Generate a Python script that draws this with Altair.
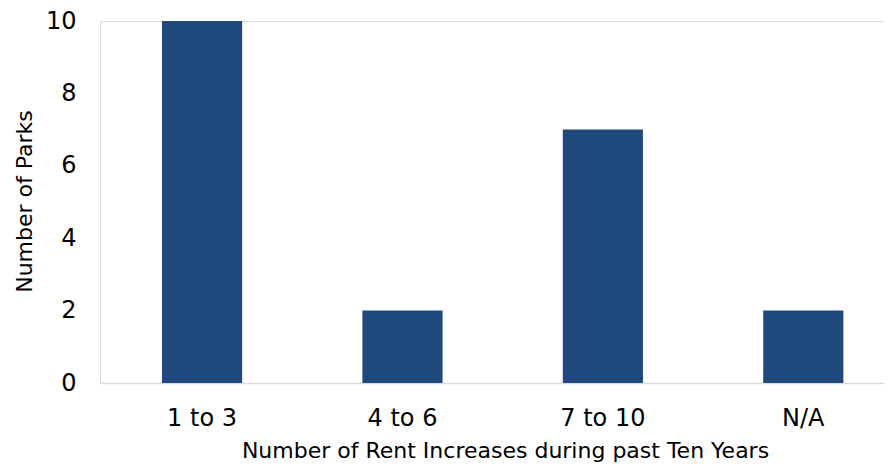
import altair as alt
import pandas as pd

categories = ["1 to 3", "4 to 6", "7 to 10", "N/A"]
parks = [10, 2, 7, 2]
y_ticks = [0, 2, 4, 6, 8, 10]

df = pd.DataFrame({"category": categories, "parks": parks})

FONT = "DejaVu Sans"
W = 784
H = 362

chart = (
    alt.Chart(df)
    .mark_bar(color="#1F497D")
    .encode(
        x=alt.X(
            "category:N",
            sort=categories,
            title="Number of Rent Increases during past Ten Years",
            scale=alt.Scale(paddingInner=0.6, paddingOuter=0.256, align=0.604),
            axis=alt.Axis(
                labelAngle=0,
                labelFontSize=24,
                labelFont=FONT,
                labelColor="#000000",
                labelBaseline="alphabetic",
                labelPadding=42,
                ticks=False,
                tickSize=0,
                grid=False,
                domain=True,
                domainColor="#D9D9D9",
                domainWidth=1.5,
                titleFont=FONT,
                titleFontSize=22,
                titleFontWeight="normal",
                titleColor="#000000",
                titleBaseline="alphabetic",
                titleY=74,
                titleX=405,
            ),
        ),
        y=alt.Y(
            "parks:Q",
            title="Number of Parks",
            scale=alt.Scale(domain=[0, 10], nice=False),
            axis=alt.Axis(
                values=y_ticks,
                labelFontSize=24,
                labelFont=FONT,
                labelColor="#000000",
                labelPadding=24,
                ticks=False,
                tickSize=0,
                tickOpacity=0,
                domain=False,
                domainOpacity=0,
                domainColor="#ffffff",
                grid=False,
                gridOpacity=0,
                titleFont=FONT,
                titleFontSize=22,
                titleFontWeight="normal",
                titleColor="#000000",
                titleBaseline="alphabetic",
                titleX=-69,
                titleY=180,
            ),
        ),
    )
    .properties(
        width=W,
        height=H,
        autosize=alt.AutoSizeParams(type="none"),
        padding={"left": 92, "top": 13, "right": 0, "bottom": 79},
    )
    .configure_view(strokeWidth=0, stroke="#ffffff", strokeOpacity=0)
    .configure_axisY(domain=False, grid=False, domainOpacity=0)
    .configure(background="white")
)

chart.save("out.html", embed_options={"renderer": "svg", "actions": False})
